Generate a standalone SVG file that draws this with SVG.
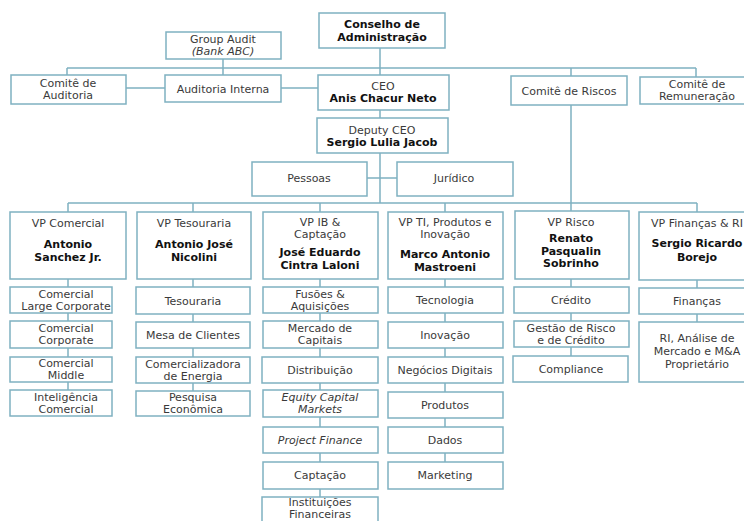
<svg xmlns="http://www.w3.org/2000/svg" width="744" height="521" viewBox="0 0 744 521">
<style>
.b{fill:#fff;stroke:#7fb1c1;stroke-width:1.5}
.l{fill:none;stroke:#7fb1c1;stroke-width:1.5}
text{font-family:"DejaVu Sans",Verdana,sans-serif;font-size:11px;fill:#3a3a3a;text-anchor:middle}
.t{font-weight:bold;fill:#111}
.i{font-style:italic}
</style>
<rect width="744" height="521" fill="#fff"/>
<g id="connectors">
<path class="l" d="M67 68H696M67 68V75M223 59V75M380 48V75M571 68V76M696 68V77M126 88H165M281 88H318M380 110V118M380 153V203M367 178H397M571 105V211M68 203H697M68 203V212M193 203V212M320 203V212M445 203V212M697 203V212M68 279V390M193 279V391M320 279V500M445 279V462M571 279V356M697 280V322"/>
</g>
<g id="group-audit"><rect class="b" x="166" y="32" width="115" height="27"/><text x="223" y="43">Group Audit</text><text class="i" x="223" y="55">(Bank ABC)</text></g>
<g id="conselho"><rect class="b" x="319" y="13" width="126" height="35"/><text class="t" x="382" y="28">Conselho de</text><text class="t" x="382" y="41">Administração</text></g>
<g id="comite-auditoria"><rect class="b" x="11" y="75" width="115" height="29"/><text x="68" y="87">Comitê de</text><text x="68" y="99">Auditoria</text></g>
<g id="auditoria-interna"><rect class="b" x="165" y="75" width="116" height="27"/><text x="223" y="93">Auditoria Interna</text></g>
<g id="ceo"><rect class="b" x="318" y="75" width="131" height="35"/><text x="383" y="90">CEO</text><text class="t" x="383" y="102">Anis Chacur Neto</text></g>
<g id="comite-riscos"><rect class="b" x="511" y="76" width="116" height="29"/><text x="569" y="95">Comitê de Riscos</text></g>
<g id="comite-remuneracao"><rect class="b" x="640" y="77" width="114" height="27"/><text x="697" y="88">Comitê de</text><text x="697" y="100">Remuneração</text></g>
<g id="deputy-ceo"><rect class="b" x="317" y="118" width="131" height="35"/><text x="382" y="134">Deputy CEO</text><text class="t" x="382" y="146">Sergio Lulia Jacob</text></g>
<g id="pessoas"><rect class="b" x="252" y="162" width="115" height="34"/><text x="309" y="182">Pessoas</text></g>
<g id="juridico"><rect class="b" x="397" y="162" width="116" height="34"/><text x="454" y="182">Jurídico</text></g>
<g id="vp-comercial"><rect class="b" x="10" y="212" width="116" height="67"/><text x="68" y="227">VP Comercial</text><text class="t" x="68" y="248">Antonio</text><text class="t" x="68" y="261">Sanchez Jr.</text></g>
<g id="comercial-large"><rect class="b" x="10" y="287" width="102" height="26"/><text x="66" y="298">Comercial</text><text x="66" y="310">Large Corporate</text></g>
<g id="comercial-corporate"><rect class="b" x="10" y="321" width="102" height="27"/><text x="66" y="332">Comercial</text><text x="66" y="344">Corporate</text></g>
<g id="comercial-middle"><rect class="b" x="10" y="357" width="102" height="25"/><text x="66" y="367">Comercial</text><text x="66" y="379">Middle</text></g>
<g id="inteligencia-comercial"><rect class="b" x="10" y="390" width="102" height="26"/><text x="66" y="401">Inteligência</text><text x="66" y="413">Comercial</text></g>
<g id="vp-tesouraria"><rect class="b" x="137" y="212" width="114" height="67"/><text x="194" y="227">VP Tesouraria</text><text class="t" x="194" y="248">Antonio José</text><text class="t" x="194" y="261">Nicolini</text></g>
<g id="tesouraria"><rect class="b" x="136" y="287" width="114" height="27"/><text x="193" y="305">Tesouraria</text></g>
<g id="mesa-clientes"><rect class="b" x="136" y="322" width="114" height="26"/><text x="193" y="339">Mesa de Clientes</text></g>
<g id="comercializadora"><rect class="b" x="136" y="357" width="114" height="26"/><text x="193" y="368">Comercializadora</text><text x="193" y="380">de Energia</text></g>
<g id="pesquisa"><rect class="b" x="136" y="391" width="114" height="25"/><text x="193" y="401">Pesquisa</text><text x="193" y="413">Econômica</text></g>
<g id="vp-ib"><rect class="b" x="263" y="212" width="115" height="67"/><text x="320" y="226">VP IB &amp;</text><text x="320" y="238">Captação</text><text class="t" x="320" y="256">José Eduardo</text><text class="t" x="320" y="269">Cintra Laloni</text></g>
<g id="fusoes"><rect class="b" x="263" y="287" width="115" height="26"/><text x="320" y="298">Fusões &amp;</text><text x="320" y="310">Aquisições</text></g>
<g id="mercado-capitais"><rect class="b" x="263" y="321" width="115" height="27"/><text x="320" y="332">Mercado de</text><text x="320" y="344">Capitais</text></g>
<g id="distribuicao"><rect class="b" x="262" y="357" width="116" height="26"/><text x="320" y="374">Distribuição</text></g>
<g id="equity"><rect class="b" x="263" y="390" width="115" height="27"/><text class="i" x="320" y="401">Equity Capital</text><text class="i" x="320" y="413">Markets</text></g>
<g id="project-finance"><rect class="b" x="263" y="427" width="115" height="26"/><text class="i" x="320" y="444">Project Finance</text></g>
<g id="captacao"><rect class="b" x="263" y="462" width="115" height="27"/><text x="320" y="479">Captação</text></g>
<g id="instituicoes"><rect class="b" x="262" y="497" width="116" height="30"/><text x="320" y="506">Instituições</text><text x="320" y="518">Financeiras</text></g>
<g id="vp-ti"><rect class="b" x="388" y="212" width="115" height="67"/><text x="445" y="226">VP TI, Produtos e</text><text x="445" y="238">Inovação</text><text class="t" x="445" y="258">Marco Antonio</text><text class="t" x="445" y="271">Mastroeni</text></g>
<g id="tecnologia"><rect class="b" x="388" y="287" width="115" height="26"/><text x="445" y="304">Tecnologia</text></g>
<g id="inovacao"><rect class="b" x="388" y="322" width="115" height="26"/><text x="445" y="339">Inovação</text></g>
<g id="negocios-digitais"><rect class="b" x="388" y="357" width="115" height="26"/><text x="445" y="374">Negócios Digitais</text></g>
<g id="produtos"><rect class="b" x="388" y="392" width="115" height="26"/><text x="445" y="409">Produtos</text></g>
<g id="dados"><rect class="b" x="388" y="427" width="115" height="26"/><text x="445" y="444">Dados</text></g>
<g id="marketing"><rect class="b" x="388" y="462" width="115" height="27"/><text x="445" y="479">Marketing</text></g>
<g id="vp-risco"><rect class="b" x="515" y="211" width="114" height="68"/><text x="571" y="226">VP Risco</text><text class="t" x="571" y="242">Renato</text><text class="t" x="571" y="255">Pasqualin</text><text class="t" x="571" y="267">Sobrinho</text></g>
<g id="credito"><rect class="b" x="514" y="287" width="115" height="26"/><text x="571" y="304">Crédito</text></g>
<g id="gestao-risco"><rect class="b" x="514" y="321" width="115" height="26"/><text x="571" y="332">Gestão de Risco</text><text x="571" y="344">e de Crédito</text></g>
<g id="compliance"><rect class="b" x="513" y="356" width="115" height="26"/><text x="571" y="373">Compliance</text></g>
<g id="vp-financas"><rect class="b" x="639" y="212" width="116" height="68"/><text x="697" y="227">VP Finanças &amp; RI</text><text class="t" x="697" y="247">Sergio Ricardo</text><text class="t" x="697" y="261">Borejo</text></g>
<g id="financas"><rect class="b" x="639" y="288" width="116" height="26"/><text x="697" y="305">Finanças</text></g>
<g id="ri-analise"><rect class="b" x="639" y="322" width="116" height="60"/><text x="697" y="342">RI, Análise de</text><text x="697" y="355">Mercado e M&amp;A</text><text x="697" y="368">Proprietário</text></g>
</svg>
